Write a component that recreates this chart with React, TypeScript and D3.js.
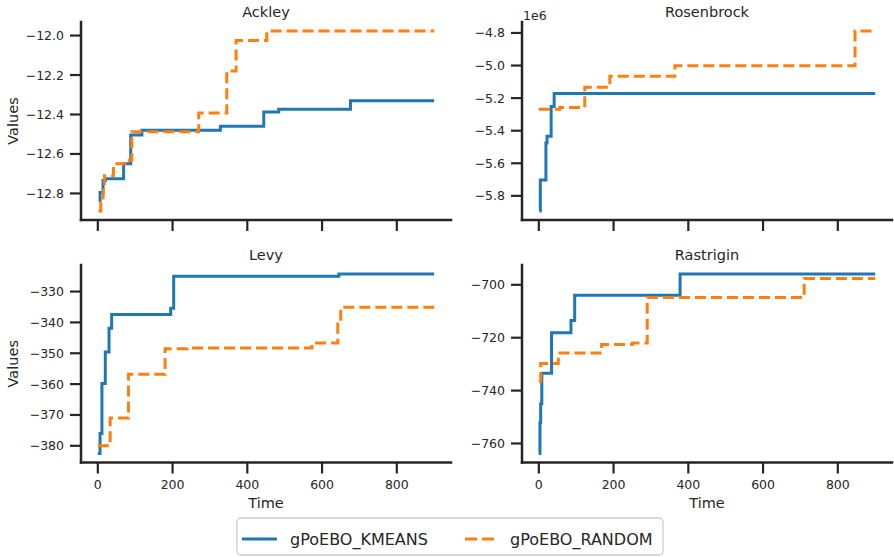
import * as d3 from 'd3'

// step series: [time, best value]
const ackleyKmeans: [number, number][] = [
	[2, -12.837], [6, -12.795], [14, -12.735], [20, -12.726], [69, -12.65], [88, -12.504],
	[118, -12.48], [328, -12.46], [444, -12.388], [484, -12.374], [676, -12.331], [900, -12.331],
]
const ackleyRandom: [number, number][] = [
	[2, -12.889], [8, -12.846], [14, -12.75], [18, -12.71], [42, -12.65], [78, -12.632],
	[91, -12.488], [270, -12.393], [345, -12.18], [370, -12.025], [452, -11.977], [900, -11.977],
]
const rosenbrockKmeans: [number, number][] = [
	[2, -5.893e6], [4, -5.703e6], [19, -5.475e6], [22, -5.434e6], [33, -5.252e6], [41, -5.171e6],
	[900, -5.171e6],
]
const rosenbrockRandom: [number, number][] = [
	[0, -5.269e6], [56, -5.258e6], [123, -5.134e6], [190, -5.066e6], [364, -5.002e6],
	[846, -4.788e6], [900, -4.788e6],
]
const levyKmeans: [number, number][] = [
	[0, -382.5], [6, -376], [11, -359.8], [20, -349.6], [30, -341.9], [37, -337.4],
	[195, -335.4], [203, -325.0], [645, -324.3], [900, -324.3],
]
const levyRandom: [number, number][] = [
	[0, -380.0], [33, -371.0], [82, -356.8], [180, -348.5], [240, -348.3], [573, -346.7],
	[642, -340.5], [650, -335.1], [900, -335.1],
]
const rastriginKmeans: [number, number][] = [
	[0, -763.8], [3, -752.2], [5, -745], [8, -733.4], [34, -718.1], [86, -713.5],
	[96, -703.9], [378, -695.9], [900, -695.9],
]
const rastriginRandom: [number, number][] = [
	[0, -736.5], [5, -729.8], [52, -725.8], [168, -722.6], [250, -722.0], [290, -704.8],
	[710, -697.6], [900, -697.6],
]

const seriesNames = ['gPoEBO_KMEANS', 'gPoEBO_RANDOM']
const colors = ['#1f77b4', '#ff7f0e']
const timeTicks = [0, 200, 400, 600, 800]
const ackleyTicks = [-12.8, -12.6, -12.4, -12.2, -12.0]
const rosenbrockTicks = [-5.8e6, -5.6e6, -5.4e6, -5.2e6, -5.0e6, -4.8e6]
const levyTicks = [-380, -370, -360, -350, -340, -330]
const rastriginTicks = [-760, -740, -720, -700]

const W = 894
const H = 557
const FONT = 'DejaVu Sans, sans-serif'
const INK = '#262626'
const cols = [[81, 451], [522, 892]]
const rows = [[22, 220], [265, 462.5]]

const minus = (s: string) => s.replace('-', '\u2212')

const panels = [
	{ title: 'Ackley', data: [ackleyKmeans, ackleyRandom], ticks: ackleyTicks, fmt: (v: number) => minus(v.toFixed(1)), col: 0, row: 0 },
	{ title: 'Rosenbrock', data: [rosenbrockKmeans, rosenbrockRandom], ticks: rosenbrockTicks, fmt: (v: number) => minus((v / 1e6).toFixed(1)), col: 1, row: 0, offset: '1e6' },
	{ title: 'Levy', data: [levyKmeans, levyRandom], ticks: levyTicks, fmt: (v: number) => minus(v.toFixed(0)), col: 0, row: 1 },
	{ title: 'Rastrigin', data: [rastriginKmeans, rastriginRandom], ticks: rastriginTicks, fmt: (v: number) => minus(v.toFixed(0)), col: 1, row: 1 },
]

const Panel = ({ p }: { p: (typeof panels)[number] }) => {
	const [x0, x1] = cols[p.col]
	const [yTop, yBot] = rows[p.row]
	const x = d3.scaleLinear().domain([-45, 945]).range([x0, x1])
	const all = p.data.flat()
	const [lo, hi] = d3.extent(all, (d) => d[1]) as [number, number]
	const pad = (hi - lo) * 0.05
	const y = d3.scaleLinear().domain([lo - pad, hi + pad]).range([yBot, yTop])
	const line = d3
		.line<[number, number]>()
		.curve(d3.curveStepAfter)
		.x((d) => x(d[0]))
		.y((d) => y(d[1]))
	const bottom = p.row === 1
	return (
		<g>
			{p.data.map((s, i) => (
				<path
					key={i}
					d={line(s) || ''}
					fill="none"
					stroke={colors[i]}
					strokeWidth={3}
					strokeDasharray={i === 1 ? '11,5' : undefined}
				/>
			))}
			<line x1={x0} x2={x0} y1={yTop} y2={yBot} stroke={INK} strokeWidth={2.5} strokeLinecap="square" />
			<line x1={x0} x2={x1} y1={yBot} y2={yBot} stroke={INK} strokeWidth={2.5} strokeLinecap="square" />
			{p.ticks.map((t) => (
				<g key={t}>
					<line x1={x0 - 11} x2={x0} y1={y(t)} y2={y(t)} stroke={INK} strokeWidth={2.2} />
					<text x={x0 - 17} y={y(t)} dy="0.36em" textAnchor="end" fontSize={12.5} fill={INK} fontFamily={FONT}>
						{p.fmt(t)}
					</text>
				</g>
			))}
			{timeTicks.map((t) => (
				<g key={t}>
					<line x1={x(t)} x2={x(t)} y1={yBot} y2={yBot + 11} stroke={INK} strokeWidth={2.2} />
					{bottom && (
						<text x={x(t)} y={yBot + 26} textAnchor="middle" fontSize={12.5} fill={INK} fontFamily={FONT}>
							{t}
						</text>
					)}
				</g>
			))}
			{bottom && (
				<text x={(x0 + x1) / 2} y={yBot + 45} textAnchor="middle" fontSize={14.5} fill={INK} fontFamily={FONT}>
					Time
				</text>
			)}
			{p.col === 0 && (
				<text
					transform={`translate(18,${(yTop + yBot) / 2}) rotate(-90)`}
					textAnchor="middle"
					fontSize={14.5}
					fill={INK}
					fontFamily={FONT}
				>
					Values
				</text>
			)}
			<text x={(x0 + x1) / 2} y={yTop - 5.5} textAnchor="middle" fontSize={14.5} fill={INK} fontFamily={FONT}>
				{p.title}
			</text>
			{p.offset && (
				<text x={x0 + 1} y={yTop - 2} fontSize={12.5} fill={INK} fontFamily={FONT}>
					{p.offset}
				</text>
			)}
		</g>
	)
}

const App = () => {
	return (
		<svg width={W} height={H} style={{ position: 'absolute', left: 0, top: 0, display: 'block' }}>
			<rect width={W} height={H} fill="#fff" />
			{panels.map((p) => (
				<Panel key={p.title} p={p} />
			))}
			<g>
				<rect x={237} y={518} width={426} height={37} rx={4} fill="#fff" stroke="#cccccc" strokeWidth={1.3} />
				<line x1={242} x2={277} y1={539} y2={539} stroke={colors[0]} strokeWidth={3} />
				<text x={290} y={545} fontSize={16} fill={INK} fontFamily={FONT}>
					{seriesNames[0]}
				</text>
				<line x1={465} x2={496} y1={539} y2={539} stroke={colors[1]} strokeWidth={3} strokeDasharray="12,5" />
				<text x={510} y={545} fontSize={16} fill={INK} fontFamily={FONT}>
					{seriesNames[1]}
				</text>
			</g>
		</svg>
	)
}

export default App
